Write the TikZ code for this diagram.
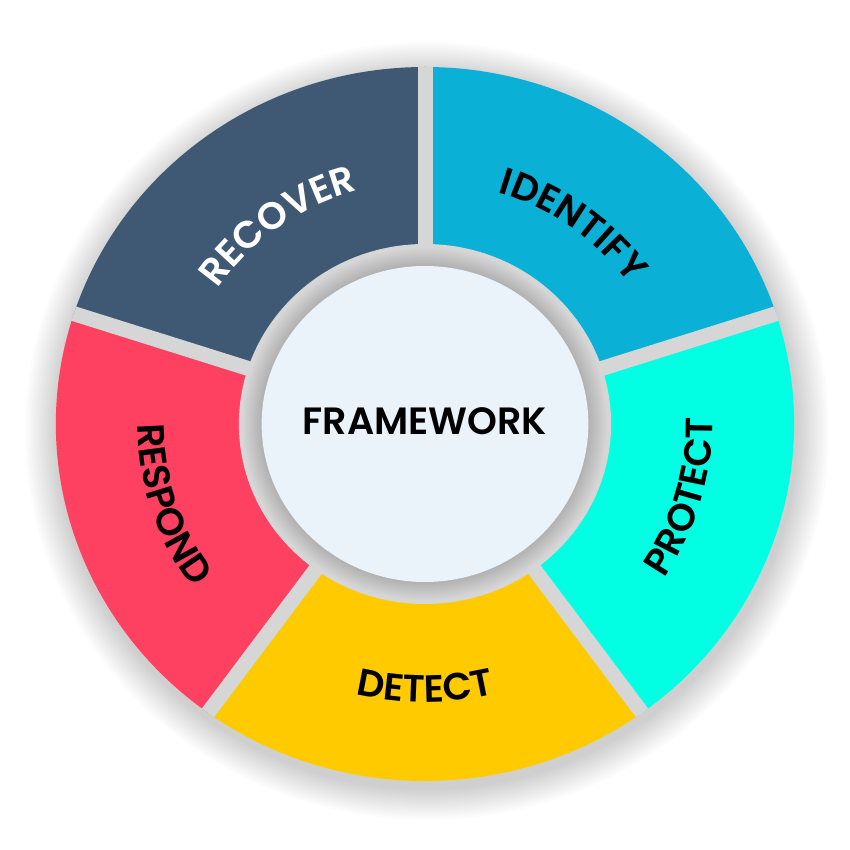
\documentclass[tikz,border=0pt]{standalone}
\usepackage{fontspec}
\usetikzlibrary{decorations.text}
\IfFontExistsTF{Poppins SemiBold}{\newfontfamily\pop{Poppins SemiBold}}{\newfontfamily\pop{Poppins}}
\definecolor{cRecover}{HTML}{3F5873}
\definecolor{cIdentify}{HTML}{0AB0D6}
\definecolor{cProtect}{HTML}{02FFE3}
\definecolor{cDetect}{HTML}{FFCA00}
\definecolor{cRespond}{HTML}{FF4161}
\definecolor{cCenter}{HTML}{EAF2FA}
\definecolor{cGap}{HTML}{D6D6D6}
\newcommand{\labelfont}{\pop\fontsize{38}{42}\selectfont}
\tikzset{
  seglabel/.style={decorate, decoration={text along path, text align=center, text color=#1}},
  gapline/.style={draw=cGap, line width=15pt},
  shadowlayer/.style={fill=black, fill opacity=0.011},
}
\begin{document}
\begin{tikzpicture}[x=1pt,y=1pt]
\useasboundingbox (-425pt,-426pt) rectangle (425pt,424pt);
\fill[white] (-425pt,-426pt) rectangle (425pt,424pt);
\begin{scope}[xscale=1.034]
  % soft shadow
  \foreach \i in {1,...,16} {
    \fill[shadowlayer] (2pt,-7pt) circle[radius={357pt+2pt*\i}];
  }
  % base disc
  \fill[cGap] (0,0) circle[radius=357pt];
  % segments
  \fill[cIdentify] (0,0) -- (90:357pt) arc[start angle=90,end angle=18,radius=357pt] -- cycle;
  \fill[cProtect] (0,0) -- (18:357pt) arc[start angle=18,end angle=-54,radius=357pt] -- cycle;
  \fill[cDetect] (0,0) -- (-54:357pt) arc[start angle=-54,end angle=-126,radius=357pt] -- cycle;
  \fill[cRespond] (0,0) -- (-126:357pt) arc[start angle=-126,end angle=-198,radius=357pt] -- cycle;
  \fill[cRecover] (0,0) -- (162:357pt) arc[start angle=162,end angle=90,radius=357pt] -- cycle;
  % gaps
  \begin{scope}
    \clip (0,0) circle[radius=357pt];
    \coordinate (o) at (0,0);
    \foreach \a in {90,18,-54,-126,162} {
      \coordinate (g) at (\a:370pt);
      \path[gapline] (o) -- (g);
    }
  \end{scope}
  % ring with soft shadow of the centre disc
  \fill[cGap] (0,0) circle[radius=180pt];
  \foreach \i in {1,...,12} {
    \fill[black, fill opacity=0.012] (0,0) circle[radius={158pt+1.5pt*\i}];
  }
  % labels
  \path[seglabel=black, decoration={text={|\labelfont|IDENTIFY}}] (90:242pt) arc[start angle=90,end angle=18,radius=242pt];
  \path[seglabel=white, decoration={text={|\labelfont|RECOVER}}] (162:242pt) arc[start angle=162,end angle=90,radius=242pt];
  \path[seglabel=black, decoration={text={|\labelfont|PROTECT}}] (-52:278pt) arc[start angle=-52,end angle=20,radius=278pt];
  \path[seglabel=black, decoration={text={|\labelfont|DETECT}}] (-126:278pt) arc[start angle=-126,end angle=-54,radius=278pt];
  \path[seglabel=black, decoration={text={|\labelfont|RESPOND}}] (162:278pt) arc[start angle=162,end angle=234,radius=278pt];
\end{scope}
\node[circle, fill=cCenter, minimum width=316pt, inner sep=0pt, xscale=1.034] (c) at (0,0) {};
\node[font=\pop\fontsize{38}{40}\selectfont, anchor=base, inner sep=0pt] (fw) at (0,-11pt) {FRAMEWORK};
\end{tikzpicture}
\end{document}
